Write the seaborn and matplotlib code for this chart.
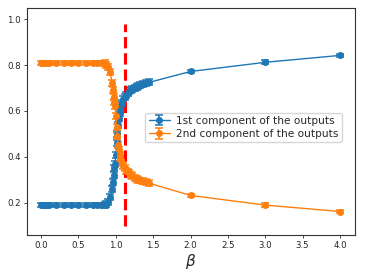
import matplotlib
matplotlib.use("Agg")
import matplotlib.pyplot as plt
import seaborn as sns
import numpy as np

# ---- data ----
beta = [0, 0.025, 0.05, 0.075, 0.1, 0.2, 0.3, 0.4, 0.5, 0.6, 0.7, 0.75, 0.8,
        0.85, 0.875, 0.9, 0.925, 0.95, 0.96, 0.97, 0.98, 0.99, 1.0, 1.01, 1.02,
        1.03, 1.04, 1.05, 1.06, 1.07, 1.08, 1.1, 1.12, 1.14, 1.16, 1.18, 1.2,
        1.22, 1.25, 1.28, 1.3, 1.33, 1.36, 1.4, 1.45, 2, 3, 4]
first = [0.19, 0.19, 0.19, 0.19, 0.19, 0.19, 0.19, 0.19, 0.19, 0.19, 0.19, 0.19, 0.19,
         0.192, 0.195, 0.205, 0.225, 0.26, 0.29, 0.32, 0.35, 0.37, 0.41, 0.46, 0.50,
         0.54, 0.57, 0.59, 0.61, 0.625, 0.635, 0.65, 0.66, 0.67, 0.68, 0.685, 0.69,
         0.695, 0.70, 0.705, 0.71, 0.713, 0.717, 0.72, 0.725, 0.772, 0.812, 0.842]
second = [0.81, 0.81, 0.81, 0.81, 0.81, 0.81, 0.81, 0.81, 0.81, 0.81, 0.81, 0.81, 0.81,
          0.808, 0.80, 0.79, 0.77, 0.72, 0.69, 0.66, 0.64, 0.62, 0.58, 0.53, 0.49,
          0.45, 0.43, 0.41, 0.395, 0.385, 0.375, 0.36, 0.35, 0.34, 0.335, 0.33, 0.32,
          0.315, 0.31, 0.305, 0.30, 0.297, 0.293, 0.29, 0.285, 0.232, 0.19, 0.162]
err = [0.008] * 13 + [0.013] * 32 + [0.008, 0.008, 0.008]
labels = ["1st component of the outputs", "2nd component of the outputs"]
beta_critical = 1.12

# ---- style ----
sns.set_style("ticks")
plt.rcParams['font.family'] = ['DejaVu Sans']
colors = sns.color_palette("tab10", 2)

fig = plt.figure(figsize=(3.74, 2.80), dpi=100)
ax = fig.add_axes([0.072, 0.161, 0.877, 0.810])

for y, c, lab in zip([first, second], colors, labels):
    ax.errorbar(beta, y, yerr=err, color=c, marker='o', markersize=4.0,
                linewidth=1.0, capsize=3.2, elinewidth=1.1, capthick=1.1,
                label=lab)

ax.vlines(beta_critical, 0.1, 0.98, colors='red', linestyles='--', linewidth=2.2)

ax.set_xlim(-0.19, 4.2)
ax.set_ylim(0.06, 1.048)
ax.set_xticks([0, 0.5, 1.0, 1.5, 2.0, 2.5, 3.0, 3.5, 4.0])
ax.set_yticks([0.2, 0.4, 0.6, 0.8, 1.0])
ax.tick_params(labelsize=6.2, length=2.5, width=0.6, pad=2)
for s in ax.spines.values():
    s.set_linewidth(0.8)
    s.set_color('#333333')
    s.set_visible(True)
ax.set_xlabel(r'$\beta$', fontsize=11, labelpad=1)

ax.legend(loc='center left', bbox_to_anchor=(0.345, 0.474), fontsize=7.6,
          frameon=True, borderpad=0.3, handlelength=2.0, handletextpad=0.6,
          labelspacing=0.3)

fig.savefig("out.png", dpi=100)
